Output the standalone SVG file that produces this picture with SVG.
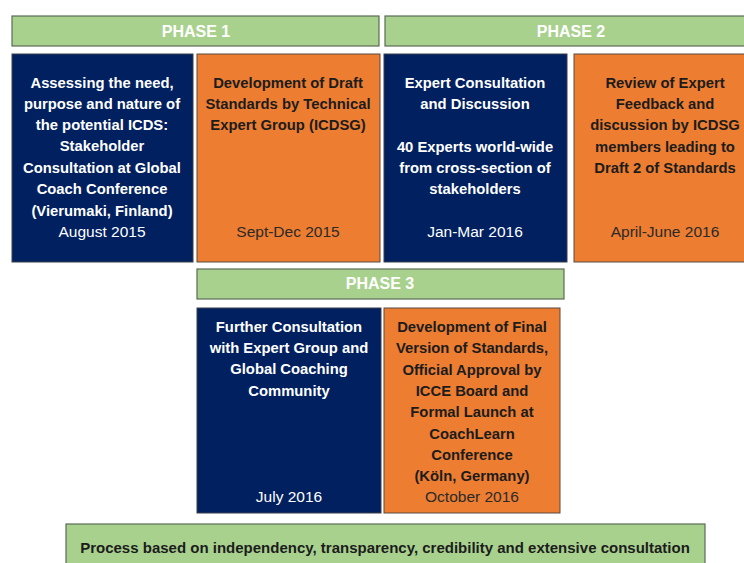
<svg xmlns="http://www.w3.org/2000/svg" width="744" height="563" viewBox="0 0 744 563">
<style>
.ph{fill:#A9D18E;stroke:#5a6b55;stroke-width:1.2}
.nv{fill:#002060;stroke:#3a3f4a;stroke-width:1}
.or{fill:#ED7D31;stroke:#5a4a3f;stroke-width:1}
text{font-family:"Liberation Sans",Arial,sans-serif;text-anchor:middle;font-size:14.8px}
.pt{fill:#ffffff;font-weight:bold;font-size:16px}
.w{fill:#ffffff;font-weight:bold}
.k{fill:#1c1c1c;font-weight:bold}
.wd{fill:#ffffff;font-size:15.5px}
.kd{fill:#2a2a2a;font-size:15.5px}
.ft{fill:#1c1c1c;font-weight:bold;font-size:15px}
</style>
<rect width="744" height="563" fill="#ffffff"/>
<g id="phase1"><rect class="ph" x="12" y="16" width="367" height="30"/><text class="pt" x="196" y="37">PHASE 1</text></g>
<g id="phase2"><rect class="ph" x="385" y="16" width="362" height="30"/><text class="pt" x="571" y="37">PHASE 2</text></g>
<g id="box1"><rect class="nv" x="12" y="54" width="181" height="208"/>
<text class="w" x="102" y="88">Assessing the need,</text>
<text class="w" x="102" y="109">purpose and nature of</text>
<text class="w" x="102" y="130">the potential ICDS:</text>
<text class="w" x="102" y="151">Stakeholder</text>
<text class="w" x="102" y="173">Consultation at Global</text>
<text class="w" x="102" y="194">Coach Conference</text>
<text class="w" x="102" y="216">(Vierumaki, Finland)</text>
<text class="wd" x="102" y="237">August 2015</text></g>
<g id="box2"><rect class="or" x="197" y="54" width="183" height="208"/>
<text class="k" x="288" y="88">Development of Draft</text>
<text class="k" x="288" y="109">Standards by Technical</text>
<text class="k" x="288" y="130">Expert Group (ICDSG)</text>
<text class="kd" x="288" y="237">Sept-Dec 2015</text></g>
<g id="box3"><rect class="nv" x="384" y="54" width="183" height="208"/>
<text class="w" x="475" y="88">Expert Consultation</text>
<text class="w" x="475" y="109">and Discussion</text>
<text class="w" x="475" y="152">40 Experts world-wide</text>
<text class="w" x="475" y="173">from cross-section of</text>
<text class="w" x="475" y="194">stakeholders</text>
<text class="wd" x="475" y="237">Jan-Mar 2016</text></g>
<g id="box4"><rect class="or" x="574" y="54" width="183" height="208"/>
<text class="k" x="665" y="88">Review of Expert</text>
<text class="k" x="665" y="109">Feedback and</text>
<text class="k" x="665" y="130">discussion by ICDSG</text>
<text class="k" x="665" y="152">members leading to</text>
<text class="k" x="665" y="173">Draft 2 of Standards</text>
<text class="kd" x="665" y="237">April-June 2016</text></g>
<g id="phase3"><rect class="ph" x="197" y="269" width="367" height="30"/><text class="pt" x="380" y="289">PHASE 3</text></g>
<g id="box5"><rect class="nv" x="197" y="308" width="184" height="205"/>
<text class="w" x="289" y="332">Further Consultation</text>
<text class="w" x="289" y="353">with Expert Group and</text>
<text class="w" x="289" y="374">Global Coaching</text>
<text class="w" x="289" y="396">Community</text>
<text class="wd" x="289" y="502">July 2016</text></g>
<g id="box6"><rect class="or" x="384" y="308" width="176" height="205"/>
<text class="k" x="472" y="332">Development of Final</text>
<text class="k" x="472" y="353">Version of Standards,</text>
<text class="k" x="472" y="375">Official Approval by</text>
<text class="k" x="472" y="396">ICCE Board and</text>
<text class="k" x="472" y="417">Formal Launch at</text>
<text class="k" x="472" y="439">CoachLearn</text>
<text class="k" x="472" y="460">Conference</text>
<text class="k" x="472" y="481">(Köln, Germany)</text>
<text class="kd" x="472" y="502">October 2016</text></g>
<g id="footer"><rect class="ph" x="66" y="524" width="639" height="45"/>
<text class="ft" x="385" y="553">Process based on independency, transparency, credibility and extensive consultation</text></g>
<g id="connectors"></g>
</svg>
